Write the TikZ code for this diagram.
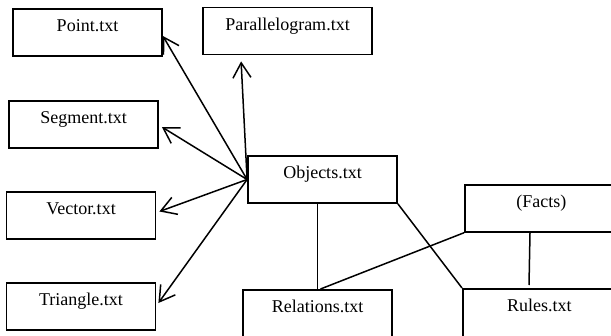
\documentclass[tikz,border=0pt]{standalone}
\usepackage{fontspec}
\setmainfont{Liberation Serif}
\usepackage{tikz}
\usetikzlibrary{arrows.meta, positioning}

\begin{document}
\begin{tikzpicture}[x=0.6667pt, y=-0.6667pt,
    box/.style={draw, line width=1.2pt, rectangle, minimum width=149*0.6667pt,
        inner xsep=0pt, inner ysep=0pt, text height=15.3pt, text depth=16pt, font=\fontsize{12}{14}\selectfont},
    cutbox/.style={box, text depth=24pt},
    link/.style={line width=1pt},
    pointer/.style={line width=1pt, -{Straight Barb[length=10pt, width=12pt, line width=1pt]}}]
    \useasboundingbox (0,0) rectangle (611,335);
    \clip (0,0) rectangle (611,335);

    % Các hộp tệp bên trái
    \node[box] (point) at (87.5,32.5) {Point.txt};
    \node[box] (segment) at (83.5,124.5) {Segment.txt};
    \node[box] (vector) at (81,215.5) {Vector.txt};
    \node[box] (triangle) at (81,306.5) {Triangle.txt};

    % Hộp phía trên
    \node[box, minimum width=169*0.6667pt] (para) at (287.5,31) {Parallelogram.txt};

    % Hộp trung tâm
    \node[box] (objects) at (322.5,179.5) {Objects.txt};

    % Các hộp phía dưới và bên phải (bị cắt ở mép hình)
    \node[cutbox, anchor=north] (relations) at (317.5,289) {Relations.txt};
    \node[cutbox, anchor=north west, minimum width=153*0.6667pt] (rules) at (462,288) {Rules.txt};
    \node[box, anchor=north west, minimum width=153*0.6667pt] (facts) at (464,184) {(Facts)};

    % Mũi tên từ Objects.txt ra các tệp
    \draw[pointer] (objects.west) -- ([shift={(0,3.5)}]point.east);
    \draw[pointer] (objects.west) -- ([shift={(39,6)}]para.south west);
    \draw[pointer] (objects.west) -- ([shift={(3,2.5)}]segment.east);
    \draw[pointer] (objects.west) -- ([shift={(3,-4)}]vector.east);
    \draw[pointer] (objects.west) -- ([shift={(2,-3.5)}]triangle.east);

    % Các đường nối không có mũi tên
    \draw[link] (relations.north) -- (relations.north |- objects.south);
    \draw[link] (objects.south east) -- (rules.north west);
    \draw[link] (facts.south west) -- ([shift={(3,0)}]relations.north);
    \draw[link] ([shift={(66,0)}]facts.south west) -- ([shift={(67,-3)}]rules.north west);
\end{tikzpicture}
\end{document}
